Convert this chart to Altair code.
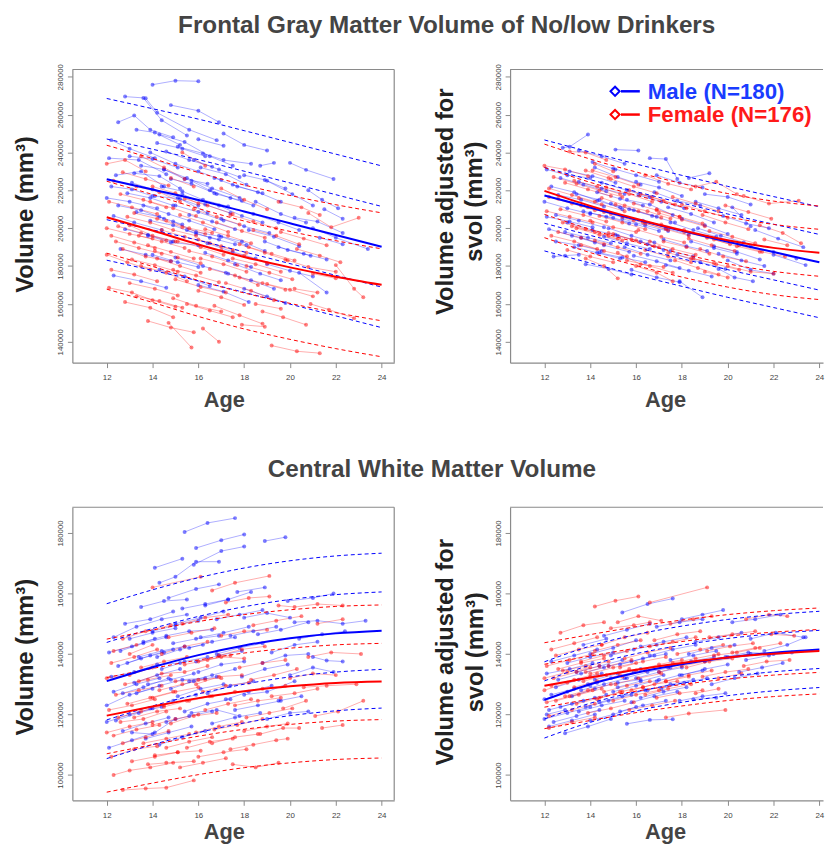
import altair as alt
import pandas as pd

AGES = [12, 14, 16, 18, 20, 22, 24]
X_TICKS = [12, 14, 16, 18, 20, 22, 24]
GM_TICKS = [140000, 160000, 180000, 200000, 220000, 240000, 260000, 280000]
WM_TICKS = [100000, 120000, 140000, 160000, 180000]

# ---------------- fitted curves (thousand mm3) at AGES ----------------
TL_M_MEAN = [225.8, 220.4, 214.9, 208.8, 202.6, 196.4, 190.2]
TL_M_BANDS = [[268.5, 263.1, 257.6, 251.5, 245.3, 239.1, 232.9],
              [247.1, 241.7, 236.2, 230.1, 223.9, 217.7, 211.5],
              [204.5, 199.1, 193.6, 187.5, 181.3, 175.1, 168.9],
              [183.1, 177.7, 172.2, 166.1, 159.9, 153.7, 147.5]]
TL_F_MEAN = [205.8, 198.8, 191.4, 184.8, 179.3, 174.4, 170.1]
TL_F_BANDS = [[243.8, 236.8, 229.4, 222.8, 217.3, 212.4, 208.1],
              [224.8, 217.8, 210.4, 203.8, 198.3, 193.4, 189.1],
              [186.8, 179.8, 172.4, 165.8, 160.3, 155.4, 151.1],
              [167.8, 160.8, 153.4, 146.8, 141.3, 136.4, 132.1]]

TR_M_MEAN = [217.3, 210.9, 204.6, 198.6, 192.8, 187.4, 182.0]
TR_M_BANDS = [[246.6, 240.2, 233.9, 227.9, 222.1, 216.7, 211.3],
              [232.0, 225.6, 219.3, 213.3, 207.5, 202.1, 196.7],
              [202.6, 196.2, 189.9, 183.9, 178.1, 172.7, 167.3],
              [188.0, 181.6, 175.3, 169.3, 163.5, 158.1, 152.7]]
TR_F_MEAN = [219.7, 211.8, 205.0, 198.9, 193.6, 189.6, 187.0]
TR_F_BANDS = [[244.4, 236.5, 229.7, 223.6, 218.3, 214.3, 211.7],
              [232.1, 224.2, 217.4, 211.3, 206.0, 202.0, 199.4],
              [207.3, 199.4, 192.6, 186.5, 181.2, 177.2, 174.6],
              [195.0, 187.1, 180.3, 174.2, 168.9, 164.9, 162.3]]

BL_M_MEAN = [131.0, 135.6, 139.6, 142.8, 145.2, 146.8, 147.7]
BL_M_BANDS = [[156.6, 161.2, 165.2, 168.4, 170.8, 172.4, 173.3],
              [143.8, 148.4, 152.4, 155.6, 158.0, 159.6, 160.5],
              [118.2, 122.8, 126.8, 130.0, 132.4, 134.0, 134.9],
              [105.4, 110.0, 114.0, 117.2, 119.6, 121.2, 122.1]]
BL_F_MEAN = [119.6, 122.6, 125.4, 127.7, 129.3, 130.4, 130.9]
BL_F_BANDS = [[144.9, 147.9, 150.7, 153.0, 154.6, 155.7, 156.2],
              [132.2, 135.2, 138.0, 140.3, 141.9, 143.0, 143.5],
              [107.0, 110.0, 112.8, 115.1, 116.7, 117.8, 118.3],
              [94.3, 97.3, 100.1, 102.4, 104.0, 105.1, 105.6]]

BR_M_MEAN = [124.8, 130.0, 133.8, 136.6, 138.8, 140.4, 141.5]
BR_M_BANDS = [[137.4, 142.6, 146.4, 149.2, 151.4, 153.0, 154.1],
              [131.1, 136.3, 140.1, 142.9, 145.1, 146.7, 147.8],
              [118.5, 123.7, 127.5, 130.3, 132.5, 134.1, 135.2],
              [112.2, 117.4, 121.2, 124.0, 126.2, 127.8, 128.9]]
BR_F_MEAN = [129.5, 132.2, 134.8, 137.0, 138.8, 140.1, 141.0]
BR_F_BANDS = [[143.7, 146.4, 149.0, 151.2, 153.0, 154.3, 155.2],
              [136.6, 139.3, 141.9, 144.1, 145.9, 147.2, 148.1],
              [122.4, 125.1, 127.7, 129.9, 131.7, 133.0, 133.9],
              [115.3, 118.0, 120.6, 122.8, 124.6, 125.9, 126.8]]

# ---------------- subject trajectories [age, vol(k), age, vol(k), ...] ----------------
TL_MALE = [
    [14.0, 275.8, 15.0, 277.9, 16.0, 277.6], [12.8, 269.5, 13.6, 268.8, 14.4, 257.0, 15.5, 249.0],
    [13.7, 268.6, 14.2, 261.0, 15.6, 252.0, 16.8, 246.5], [14.8, 265.0, 16.0, 262.0, 16.9, 256.0],
    [12.5, 256.0, 13.2, 259.5, 13.9, 252.0, 14.9, 248.0], [13.3, 252.0, 14.1, 250.5, 15.2, 244.0],
    [14.3, 249.5, 15.4, 245.5, 16.5, 238.0, 17.5, 233.0], [12.2, 246.5, 13.0, 242.0, 14.1, 237.0],
    [15.1, 243.0, 16.2, 239.5, 17.1, 236.0, 18.3, 234.0], [17.1, 250.0, 18.0, 244.0, 19.0, 241.0],
    [18.7, 233.0, 19.3, 234.5], [20.0, 234.5, 20.7, 230.8, 21.9, 226.0],
    [12.1, 237.0, 13.4, 236.0, 14.6, 228.5], [13.9, 240.0, 15.0, 234.0, 16.0, 230.0, 17.0, 225.5],
    [16.1, 232.0, 17.2, 228.5, 18.1, 223.0], [12.4, 228.0, 13.5, 230.0, 14.5, 222.0],
    [14.5, 231.0, 15.5, 226.5, 16.6, 221.0, 17.8, 216.0], [13.1, 224.0, 14.0, 220.5, 15.1, 216.0, 16.0, 212.0],
    [17.5, 223.0, 18.6, 219.0, 19.6, 214.0], [19.0, 225.0, 20.1, 218.0, 21.0, 212.0],
    [12.0, 216.0, 13.0, 214.0, 14.2, 210.5], [15.3, 218.0, 16.3, 212.5, 17.4, 208.0],
    [13.6, 212.0, 14.7, 207.5, 15.6, 204.0, 16.7, 199.5], [16.9, 212.0, 17.9, 206.5, 18.8, 203.0],
    [20.2, 205.5, 21.2, 203.5, 22.3, 197.5], [12.3, 206.5, 13.2, 203.0, 14.4, 199.0],
    [14.9, 203.5, 15.9, 198.0, 17.0, 195.5, 18.1, 191.0], [18.2, 199.0, 19.3, 195.5, 20.4, 190.5],
    [21.0, 200.0, 22.0, 195.0, 23.4, 189.0], [13.8, 196.0, 14.8, 192.5, 16.0, 191.0],
    [16.4, 192.0, 17.5, 187.5, 18.5, 184.0], [19.5, 190.0, 20.6, 186.5, 21.6, 183.5],
    [12.6, 189.0, 13.7, 186.0, 14.8, 182.5], [15.0, 184.5, 16.2, 180.0, 17.2, 176.5],
    [17.6, 181.0, 18.7, 176.0, 19.6, 172.5], [20.4, 176.5, 21.6, 166.0],
    [12.3, 175.0, 13.5, 172.0, 14.6, 168.5], [14.3, 178.0, 15.4, 174.5, 16.5, 169.5],
    [16.0, 170.0, 17.1, 166.5, 18.2, 161.0], [18.0, 168.0, 19.0, 164.0, 19.8, 160.5],
    [13.2, 229.0, 14.3, 227.5, 15.2, 221.0], [15.7, 225.0, 16.8, 218.0, 17.9, 214.5],
    [14.1, 217.0, 15.2, 215.5, 16.4, 208.0], [18.5, 214.0, 19.6, 207.5, 20.7, 203.0],
    [21.5, 210.0, 22.3, 205.0],
    [13.0, 238.0, 14.0, 236.5, 15.1, 232.0], [14.6, 240.5, 15.6, 236.0, 16.6, 232.5],
    [15.8, 236.0, 16.9, 231.0, 17.8, 227.0], [13.5, 233.0, 14.5, 231.0, 15.4, 226.0, 16.4, 223.5],
    [12.9, 218.5, 13.9, 216.0, 14.9, 212.0], [14.4, 222.0, 15.3, 219.5, 16.2, 215.0, 17.3, 211.5],
    [16.5, 220.0, 17.4, 216.0, 18.4, 212.0], [15.0, 212.0, 16.0, 208.5, 17.1, 204.0],
    [17.0, 205.0, 18.0, 201.0, 19.1, 197.5], [13.3, 208.5, 14.3, 206.0, 15.3, 202.0],
    [15.5, 199.0, 16.5, 195.0, 17.6, 191.5], [12.8, 199.5, 13.8, 196.5, 14.9, 193.0],
    [16.3, 187.0, 17.3, 183.0, 18.3, 179.5], [18.9, 193.0, 19.9, 188.5, 20.9, 185.5],
    [14.0, 186.0, 15.1, 182.0, 16.0, 179.5], [17.3, 176.0, 18.3, 172.5, 19.3, 168.0],
    [19.0, 181.0, 20.0, 177.5, 21.0, 174.5], [20.8, 220.0, 21.4, 215.0, 22.1, 210.5],
    [18.0, 228.0, 18.9, 225.5, 19.8, 221.0], [12.2, 222.0, 13.1, 220.5, 14.0, 217.0],
    [14.8, 226.0, 15.7, 223.5, 16.7, 218.5], [16.7, 226.5, 17.7, 222.0, 18.8, 218.5],
    [13.9, 204.0, 14.9, 201.5, 15.9, 197.0, 16.9, 194.0], [15.6, 207.0, 16.6, 203.5, 17.6, 199.5],
    [18.4, 207.5, 19.5, 203.0, 20.4, 199.0], [12.5, 212.0, 13.5, 209.5, 14.5, 205.0],
    [16.9, 196.0, 17.9, 193.0, 18.9, 188.0], [21.3, 195.0, 22.3, 191.5],
    [14.2, 245.0, 15.3, 242.0, 16.3, 238.0], [16.0, 247.0, 17.1, 243.5],
]
TL_FEMALE = [
    [12.0, 234.0, 12.8, 236.0, 13.7, 230.0], [13.5, 238.0, 14.5, 232.0, 15.4, 226.0],
    [15.3, 240.0, 16.3, 233.0], [12.3, 225.0, 13.3, 222.0, 14.3, 219.0, 15.2, 214.0],
    [14.0, 222.0, 15.0, 218.5, 16.0, 213.0], [17.0, 221.0, 18.0, 215.0, 19.0, 210.0],
    [19.5, 214.0, 20.5, 211.0, 21.3, 207.0], [20.8, 208.0, 21.8, 200.5, 23.0, 205.5],
    [12.1, 214.0, 13.1, 211.0, 14.2, 207.5], [13.2, 208.0, 14.2, 205.0, 15.3, 200.5, 16.3, 197.0],
    [15.2, 207.0, 16.2, 203.0, 17.3, 198.0], [16.8, 203.0, 17.9, 198.5, 18.9, 195.0],
    [18.4, 199.0, 19.4, 196.0, 20.4, 191.5], [12.5, 201.0, 13.5, 197.5, 14.6, 193.5],
    [14.4, 199.0, 15.4, 195.5, 16.5, 192.0, 17.5, 188.5], [16.0, 194.0, 17.0, 190.5, 18.1, 187.0],
    [12.2, 196.0, 13.2, 192.5, 14.1, 189.5], [13.8, 191.0, 14.8, 187.5, 15.8, 184.0],
    [15.6, 188.0, 16.6, 185.0, 17.7, 180.5], [17.5, 184.0, 18.5, 181.0, 19.6, 177.0],
    [19.8, 183.5, 20.8, 179.5, 22.0, 177.0], [22.0, 180.5, 22.8, 168.0, 23.2, 163.5],
    [12.7, 189.0, 13.7, 185.0, 14.8, 182.5], [14.2, 184.0, 15.2, 180.0, 16.1, 176.5],
    [16.5, 178.5, 17.6, 175.0, 18.6, 170.0], [12.0, 186.0, 12.9, 182.0, 13.9, 178.0],
    [13.5, 180.0, 14.6, 176.5, 15.5, 172.0], [15.0, 173.0, 16.1, 169.0, 17.2, 166.0],
    [17.2, 171.0, 18.3, 167.0, 19.3, 162.0], [12.1, 168.5, 13.1, 166.0, 14.0, 162.0, 15.0, 158.5],
    [13.0, 171.0, 14.1, 168.0, 15.1, 164.5], [14.9, 163.0, 15.9, 159.0, 17.0, 156.0],
    [16.7, 159.0, 17.8, 154.0, 18.8, 149.5], [18.8, 156.0, 19.7, 153.0, 20.7, 149.0],
    [20.9, 160.0, 21.7, 157.0, 22.8, 152.5], [12.8, 161.0, 13.9, 158.0, 14.9, 153.0],
    [13.8, 151.0, 14.8, 147.5, 15.8, 145.0], [14.7, 150.0, 15.7, 137.0],
    [16.2, 147.0, 16.9, 140.0], [19.2, 138.0, 20.3, 135.0, 21.3, 134.0],
    [15.4, 215.5, 16.4, 212.0, 17.5, 207.5], [17.8, 191.5, 18.9, 187.0, 19.9, 183.0],
    [20.2, 168.0, 21.2, 166.0], [13.0, 201.5, 14.0, 196.0, 15.0, 193.0],
    [18.5, 160.0, 19.6, 157.5],
    [12.6, 218.0, 13.6, 215.0, 14.6, 211.0], [13.9, 214.0, 14.9, 210.5, 15.9, 206.5],
    [15.8, 210.0, 16.8, 206.0, 17.8, 202.0], [12.9, 206.0, 13.9, 203.0, 14.9, 199.0, 15.9, 196.0],
    [14.6, 204.0, 15.6, 200.0, 16.6, 197.5], [16.3, 199.5, 17.3, 196.0, 18.3, 192.0],
    [13.4, 196.0, 14.4, 193.0, 15.4, 189.5], [15.1, 193.0, 16.1, 190.0, 17.1, 186.0],
    [17.0, 188.5, 18.0, 185.5, 19.0, 181.5], [12.4, 193.0, 13.4, 189.5, 14.4, 186.5],
    [14.1, 188.0, 15.1, 184.5, 16.1, 181.5], [16.1, 184.0, 17.1, 181.0, 18.1, 177.0],
    [18.1, 180.0, 19.1, 176.5, 20.1, 173.0], [13.1, 183.5, 14.1, 180.5, 15.1, 177.0],
    [14.9, 178.0, 15.9, 175.0, 16.9, 171.5], [17.8, 174.0, 18.8, 171.0, 19.8, 167.5],
    [12.2, 178.0, 13.2, 175.5, 14.2, 172.0], [16.0, 167.0, 17.0, 163.5, 18.0, 159.5],
    [19.0, 170.5, 20.0, 167.5, 21.0, 164.0], [21.0, 176.0, 22.0, 173.5],
    [17.4, 207.0, 18.4, 203.5, 19.4, 200.0], [19.6, 198.0, 20.6, 194.5, 21.6, 191.0],
    [12.7, 229.5, 13.7, 226.0, 14.7, 222.5], [14.8, 226.5, 15.8, 222.0],
    [18.2, 190.0, 19.2, 186.5, 20.2, 183.0], [20.3, 189.0, 21.3, 185.5, 22.2, 182.0],
    [15.5, 160.0, 16.5, 156.5, 17.5, 153.0], [13.3, 164.0, 14.3, 161.5, 15.3, 158.0],
    [17.9, 149.0, 18.9, 148.0], [12.0, 200.0, 13.0, 197.0, 14.0, 194.5],
]
TR_MALE = [
    [12.8, 242.5, 13.1, 243.0, 13.9, 249.5], [15.1, 241.5, 16.1, 241.0],
    [13.5, 241.0, 14.5, 238.0, 15.5, 234.0], [16.6, 237.0, 17.3, 236.5, 17.8, 226.0],
    [18.3, 226.5, 19.2, 229.0], [12.1, 231.0, 13.0, 228.0, 14.0, 226.5],
    [14.2, 232.0, 15.2, 227.0, 16.2, 223.0], [16.0, 224.5, 17.0, 221.5, 18.0, 217.0],
    [19.0, 218.0, 20.0, 216.5, 21.0, 212.5], [20.2, 211.0, 21.0, 201.0],
    [12.3, 222.0, 13.3, 219.0, 14.3, 214.5, 15.3, 211.0], [13.4, 218.0, 14.4, 215.0, 15.4, 210.0],
    [15.6, 215.0, 16.6, 212.5, 17.6, 207.0], [17.4, 211.0, 18.4, 207.5, 19.4, 203.0],
    [12.0, 214.0, 13.0, 210.5, 14.0, 207.5], [14.0, 208.0, 15.0, 205.5, 16.0, 202.0, 17.0, 198.5],
    [16.3, 204.0, 17.3, 200.0, 18.3, 196.5], [18.7, 200.0, 19.7, 196.0, 20.7, 192.5],
    [21.2, 199.0, 22.2, 194.5, 23.3, 190.0], [12.5, 207.0, 13.5, 204.0, 14.6, 200.5],
    [14.8, 200.0, 15.8, 196.0, 16.8, 192.5], [17.2, 194.0, 18.2, 190.5, 19.1, 188.0],
    [19.4, 190.5, 20.4, 187.5, 21.4, 183.5], [22.0, 186.0, 23.4, 180.5],
    [12.2, 199.5, 13.2, 196.0, 14.2, 192.5], [13.6, 195.0, 14.6, 191.0, 15.7, 187.5],
    [15.5, 190.0, 16.5, 186.0, 17.5, 183.0], [17.8, 186.0, 18.8, 182.0, 19.9, 178.5],
    [20.0, 183.0, 21.0, 178.0, 22.0, 176.0], [12.4, 185.0, 12.9, 185.5, 13.5, 186.0],
    [13.8, 181.0, 14.8, 178.5, 15.8, 175.5], [15.8, 178.0, 16.9, 174.0, 17.9, 171.5],
    [17.9, 172.0, 18.9, 163.5], [19.6, 178.5, 20.3, 174.0, 21.1, 172.0],
    [14.5, 224.0, 15.6, 220.0, 16.6, 216.5], [12.7, 226.5, 13.7, 223.0, 14.7, 219.5],
    [16.8, 219.0, 17.8, 214.5, 18.8, 212.0], [19.8, 206.5, 20.8, 202.5, 21.8, 200.0],
    [13.0, 203.0, 14.1, 199.0, 15.1, 196.5], [15.2, 196.0, 16.2, 193.0, 17.2, 188.5],
    [14.4, 187.0, 15.4, 184.5, 16.4, 182.0], [18.0, 205.0, 19.0, 201.5, 20.0, 197.0],
    [13.1, 230.0, 14.1, 227.5, 15.1, 224.0], [15.0, 231.5, 16.0, 228.0, 17.0, 224.5],
    [12.6, 217.5, 13.6, 215.0, 14.6, 211.5], [14.3, 219.0, 15.3, 215.5, 16.3, 212.0],
    [16.1, 217.5, 17.1, 214.0, 18.1, 210.5], [13.7, 209.0, 14.7, 206.0, 15.7, 202.5],
    [15.4, 205.0, 16.4, 201.5, 17.4, 198.5], [17.5, 203.0, 18.5, 199.0, 19.5, 195.5],
    [12.9, 198.0, 13.9, 195.0, 14.9, 192.0], [14.6, 195.5, 15.6, 192.0, 16.6, 189.0],
    [16.5, 191.5, 17.5, 188.0, 18.5, 185.0], [18.4, 193.0, 19.4, 189.5, 20.4, 186.5],
    [13.3, 190.0, 14.3, 187.0, 15.3, 184.0], [15.9, 185.5, 16.9, 182.5, 17.9, 179.0],
    [17.3, 180.5, 18.3, 177.5, 19.3, 174.5], [12.1, 206.0, 13.1, 203.5, 14.1, 200.5],
    [19.6, 186.5, 20.6, 183.0, 21.6, 180.0], [21.0, 190.5, 22.0, 187.5, 23.0, 184.0],
    [14.1, 235.0, 15.1, 231.0], [16.9, 228.0, 17.9, 224.0, 18.9, 221.5],
    [12.5, 193.0, 13.5, 191.0, 14.5, 188.0], [15.7, 210.0, 16.7, 206.5, 17.7, 203.0],
    [18.6, 214.0, 19.6, 210.5, 20.6, 207.0], [14.9, 213.0, 15.9, 209.5, 16.9, 206.0],
    [13.5, 224.5, 14.5, 221.0, 15.5, 218.0],
]
TR_FEMALE = [
    [13.1, 240.5, 13.8, 240.0, 14.7, 236.0], [12.0, 233.0, 12.9, 231.0, 13.9, 227.5],
    [14.1, 230.5, 15.1, 227.0, 16.1, 223.0], [16.4, 228.0, 17.4, 223.5, 18.4, 220.5],
    [18.6, 222.0, 19.5, 224.5, 20.4, 218.0], [20.7, 217.0, 21.8, 213.0, 23.1, 214.5],
    [12.4, 227.0, 13.4, 223.5, 14.4, 220.0, 15.4, 216.5], [13.3, 225.0, 14.3, 222.0, 15.3, 218.0],
    [15.7, 220.0, 16.7, 216.5, 17.7, 212.5], [17.6, 216.5, 18.6, 213.0, 19.6, 209.0],
    [19.9, 212.0, 20.9, 208.5, 21.9, 205.0], [12.2, 221.0, 13.2, 217.5, 14.2, 214.0],
    [14.5, 216.0, 15.5, 212.0, 16.5, 209.0, 17.5, 205.0], [16.9, 210.0, 17.9, 206.0, 18.9, 202.5],
    [18.9, 207.0, 19.9, 203.0, 20.9, 199.5], [21.4, 201.5, 22.4, 197.5, 23.2, 192.0],
    [12.6, 215.5, 13.6, 212.0, 14.6, 208.5], [13.9, 211.0, 14.9, 207.5, 15.9, 204.0],
    [15.4, 206.0, 16.4, 202.5, 17.4, 199.0], [17.1, 202.0, 18.1, 199.0, 19.1, 195.5],
    [19.2, 198.5, 20.2, 195.5, 21.2, 192.0], [12.1, 209.0, 13.1, 206.0, 14.1, 203.0],
    [14.0, 204.0, 15.0, 200.5, 16.0, 198.0], [16.1, 199.0, 17.1, 195.5, 18.1, 192.5],
    [18.3, 194.5, 19.3, 191.0, 20.3, 188.0], [20.5, 191.0, 21.5, 187.5, 22.5, 185.0],
    [12.8, 203.0, 13.8, 199.5, 14.8, 196.0], [14.8, 197.5, 15.8, 194.0, 16.8, 190.5],
    [16.6, 193.0, 17.6, 189.0, 18.6, 186.0], [18.8, 189.0, 19.8, 185.0, 20.8, 182.5],
    [12.3, 196.0, 13.3, 193.0, 14.3, 189.0], [13.6, 191.0, 14.6, 188.0, 15.6, 185.0],
    [15.2, 187.0, 16.2, 181.0, 17.2, 179.5], [17.7, 183.0, 18.7, 179.0, 19.6, 175.5],
    [20.0, 180.0, 21.0, 177.0, 22.0, 176.0], [13.8, 184.0, 14.6, 180.0, 15.2, 173.5],
    [16.0, 180.0, 16.9, 176.5, 17.6, 172.0], [19.0, 177.0, 20.0, 174.0],
    [15.9, 213.0, 16.9, 209.5, 17.9, 206.0], [13.4, 200.0, 14.4, 196.5, 15.4, 193.5],
    [17.4, 187.0, 18.4, 184.0, 19.4, 181.5], [14.2, 234.0, 15.0, 230.0],
    [12.9, 224.0, 13.9, 220.5, 14.9, 217.0], [14.7, 221.5, 15.7, 218.0, 16.7, 214.0],
    [16.2, 218.0, 17.2, 214.5, 18.2, 210.5], [13.5, 216.0, 14.5, 212.5, 15.5, 209.0],
    [15.1, 212.5, 16.1, 209.0, 17.1, 205.5], [17.0, 208.0, 18.0, 204.5, 19.0, 201.0],
    [12.7, 210.0, 13.7, 207.0, 14.7, 203.5], [14.4, 206.5, 15.4, 203.0, 16.4, 199.5],
    [16.3, 203.0, 17.3, 199.5, 18.3, 196.0], [18.1, 198.0, 19.1, 195.0, 20.1, 191.5],
    [13.2, 201.0, 14.2, 198.0, 15.2, 194.5], [15.0, 197.0, 16.0, 193.5, 17.0, 190.0],
    [17.2, 193.0, 18.2, 190.0, 19.2, 186.5], [12.6, 198.0, 13.6, 195.0, 14.6, 191.5],
    [14.2, 193.5, 15.2, 190.0, 16.2, 186.5], [16.4, 188.5, 17.4, 185.0, 18.4, 182.0],
    [19.4, 194.0, 20.4, 190.5, 21.4, 187.5], [13.0, 188.5, 14.0, 185.0, 15.0, 182.0],
    [15.6, 183.0, 16.6, 180.0, 17.6, 176.5], [18.5, 184.0, 19.5, 181.0, 20.5, 178.0],
    [21.6, 194.0, 22.6, 191.0], [12.2, 216.5, 13.2, 213.0, 14.2, 209.5],
    [14.9, 226.0, 15.9, 222.0, 16.9, 218.5], [18.0, 212.5, 19.0, 209.0, 20.0, 205.5],
    [13.8, 230.5, 14.8, 226.5],
]
BL_MALE = [
    [15.4, 180.3, 16.4, 183.3, 17.6, 184.9], [15.9, 175.0, 17.0, 177.6, 18.0, 179.5],
    [18.9, 177.3, 19.8, 178.6], [14.1, 168.5, 15.3, 171.5],
    [15.8, 169.5, 17.0, 174.0, 18.0, 175.5], [14.3, 163.5, 15.0, 165.5, 15.9, 170.5, 16.9, 170.5],
    [14.7, 158.5, 15.9, 161.5, 16.9, 163.0], [12.3, 145.5, 13.3, 149.0, 14.4, 151.5, 15.5, 153.0],
    [13.5, 155.5, 14.5, 157.5, 15.5, 158.0], [16.3, 156.0, 17.3, 158.0, 18.3, 160.5],
    [17.7, 160.5, 18.9, 162.0], [19.9, 157.5, 21.0, 158.5, 21.9, 160.0],
    [12.8, 150.0, 13.9, 151.5, 14.9, 154.0], [15.0, 150.0, 16.1, 152.0, 17.1, 154.0],
    [18.0, 152.0, 19.0, 153.5, 20.0, 152.0], [20.2, 150.5, 21.2, 151.0, 22.3, 150.0, 23.3, 151.0],
    [12.1, 140.5, 13.1, 142.5, 14.1, 145.0], [13.6, 144.0, 14.6, 146.0, 15.6, 147.5, 16.6, 148.0],
    [16.1, 145.5, 17.1, 147.0, 18.2, 149.0], [18.6, 146.5, 19.6, 148.0, 20.8, 150.5],
    [12.5, 136.0, 13.5, 138.5, 14.5, 140.5], [14.2, 139.0, 15.2, 141.5, 16.2, 143.0],
    [16.8, 140.0, 17.8, 142.0, 18.8, 143.5], [19.2, 140.5, 20.2, 143.0, 21.2, 144.0],
    [21.0, 139.0, 21.6, 137.8, 22.3, 137.5], [12.2, 132.5, 13.2, 134.0, 14.2, 136.5, 15.2, 137.0],
    [13.8, 130.0, 14.8, 131.5, 15.8, 133.5], [15.6, 131.0, 16.6, 133.0, 17.6, 135.0],
    [17.9, 132.5, 18.9, 135.0, 19.9, 136.5], [20.0, 133.0, 21.0, 135.5, 21.9, 134.0],
    [12.0, 123.0, 13.0, 126.5, 14.0, 128.5], [13.3, 127.0, 14.3, 129.5, 15.3, 131.5, 16.3, 132.0],
    [15.1, 126.0, 16.1, 128.5, 17.1, 130.0], [17.2, 125.0, 18.2, 127.5, 19.2, 129.5],
    [19.5, 124.5, 20.5, 126.0], [12.4, 118.0, 13.4, 120.5, 14.4, 122.5],
    [14.6, 117.5, 15.6, 119.5, 16.6, 121.0], [16.6, 117.0, 17.6, 119.0, 18.7, 120.5],
    [12.1, 109.0, 13.1, 111.5, 14.1, 114.0], [13.7, 112.0, 14.7, 114.0, 15.7, 116.0],
    [15.7, 120.5, 16.8, 121.5, 17.8, 119.5], [18.0, 126.5, 19.0, 127.5, 20.2, 131.0],
    [13.1, 114.0, 14.0, 113.5, 15.0, 118.5], [14.9, 143.5, 15.9, 145.0, 16.9, 146.0],
    [12.7, 127.0, 13.6, 129.0, 14.7, 132.0],
    [12.9, 137.0, 13.9, 139.5, 14.9, 141.5], [14.4, 135.0, 15.4, 137.5, 16.4, 139.0],
    [15.9, 137.5, 16.9, 139.5, 17.9, 141.0], [13.2, 130.5, 14.2, 133.0, 15.2, 135.0],
    [14.8, 128.5, 15.8, 131.0, 16.8, 132.5], [16.4, 127.0, 17.4, 129.5, 18.4, 131.0],
    [12.6, 141.0, 13.6, 143.5, 14.6, 145.5], [14.0, 147.5, 15.0, 149.5, 16.0, 151.0],
    [15.6, 142.0, 16.6, 144.0, 17.6, 145.5], [17.4, 146.0, 18.4, 147.5, 19.4, 149.0],
    [12.3, 127.5, 13.3, 130.0, 14.3, 132.0], [13.9, 122.0, 14.9, 124.5, 15.9, 126.5],
    [15.4, 121.0, 16.4, 123.5, 17.4, 125.0], [17.6, 121.5, 18.6, 123.0, 19.6, 124.5],
    [12.7, 114.5, 13.7, 117.0, 14.7, 119.0], [14.3, 110.0, 15.3, 112.5, 16.3, 114.5],
    [18.8, 137.0, 19.8, 139.5, 20.8, 140.0], [20.4, 145.0, 21.4, 146.5, 22.4, 147.5],
    [13.4, 139.0, 14.4, 141.0, 15.4, 142.5], [16.0, 134.0, 17.0, 136.5, 18.0, 137.5],
    [12.0, 117.5, 13.0, 120.0, 14.0, 122.0], [19.0, 118.5, 20.0, 120.5, 20.8, 121.0],
    [13.0, 145.0, 14.0, 147.0, 15.0, 148.5], [15.3, 155.0, 16.3, 156.5, 17.3, 158.0],
    [16.8, 151.5, 17.8, 153.0, 18.8, 154.5],
]
BL_FEMALE = [
    [16.6, 161.0, 17.6, 163.5, 19.1, 165.8], [14.0, 162.0, 16.1, 165.5],
    [17.2, 157.0, 18.2, 158.5, 19.1, 159.0], [19.5, 156.0, 20.2, 155.5, 21.2, 156.5, 22.3, 156.0],
    [12.7, 145.0, 13.7, 147.5, 14.8, 149.5], [15.3, 150.0, 16.3, 152.0, 17.3, 153.0],
    [18.4, 149.5, 19.4, 151.0, 20.5, 152.5], [21.2, 150.0, 22.3, 151.5],
    [12.2, 137.0, 13.2, 139.0, 14.2, 141.5], [14.4, 140.0, 15.4, 142.5, 16.4, 144.0],
    [16.9, 139.5, 17.9, 141.5, 18.9, 142.5], [20.8, 139.0, 21.8, 140.5, 23.1, 140.0],
    [12.0, 132.0, 13.0, 133.0, 14.0, 135.5], [13.4, 131.0, 14.4, 133.5, 15.4, 134.0, 16.4, 136.0],
    [15.9, 130.0, 16.9, 132.5, 17.9, 133.0], [18.3, 131.5, 19.3, 133.0, 20.3, 135.0],
    [20.6, 129.0, 21.6, 129.5, 22.9, 130.0], [12.4, 126.5, 13.4, 128.0, 14.4, 129.5],
    [14.0, 125.5, 15.0, 127.5, 16.0, 129.0], [15.6, 124.5, 16.6, 126.0, 17.6, 127.5],
    [17.6, 123.0, 18.6, 124.5, 19.6, 125.5], [19.7, 122.0, 20.7, 124.5],
    [21.1, 119.5, 22.1, 121.0, 23.2, 124.5], [12.1, 121.5, 13.1, 123.0, 14.1, 125.0],
    [13.2, 119.0, 14.2, 121.0, 15.2, 122.0], [14.8, 117.0, 15.8, 119.5, 16.8, 120.5],
    [16.7, 115.0, 17.7, 116.5, 18.8, 118.5], [18.7, 113.5, 19.7, 115.5, 20.4, 115.5],
    [21.4, 115.5, 22.3, 116.5], [12.3, 113.0, 13.3, 115.0, 14.3, 116.5],
    [13.6, 110.5, 14.6, 112.0, 15.6, 113.5], [15.5, 109.0, 16.5, 111.0, 17.5, 112.0],
    [17.4, 108.5, 18.4, 110.0, 19.4, 111.5, 19.9, 112.0], [12.2, 106.0, 13.2, 108.5, 14.2, 109.5],
    [14.1, 106.5, 15.1, 107.5, 16.1, 108.0], [16.0, 106.0, 17.1, 107.5, 18.1, 108.5],
    [12.3, 100.0, 13.0, 101.5, 13.9, 102.5, 14.9, 104.0], [12.7, 95.0, 13.7, 95.5, 14.6, 95.8, 15.8, 98.2],
    [17.5, 103.5, 18.5, 102.5, 19.5, 104.0], [13.8, 103.5, 14.6, 104.0, 15.8, 104.5],
    [16.0, 137.5, 17.0, 139.0, 18.0, 138.5], [13.0, 140.0, 14.0, 143.0],
    [18.8, 128.5, 19.8, 129.5], [12.6, 117.5, 13.6, 118.5, 14.6, 121.0],
    [15.0, 131.0, 16.0, 131.5, 17.0, 132.0],
    [12.8, 130.0, 13.8, 131.5, 14.8, 133.0], [14.3, 128.0, 15.3, 130.0, 16.3, 131.5],
    [16.2, 127.5, 17.2, 129.5, 18.2, 130.5], [12.9, 123.5, 13.9, 125.5, 14.9, 127.5],
    [14.5, 122.5, 15.5, 124.5, 16.5, 126.0], [16.3, 121.5, 17.3, 123.5, 18.3, 125.0],
    [12.5, 119.0, 13.5, 121.0, 14.5, 123.0], [14.0, 116.5, 15.0, 118.5, 16.0, 120.0],
    [15.9, 114.0, 16.9, 116.0, 17.9, 117.5], [12.7, 110.5, 13.7, 112.5, 14.7, 114.5],
    [14.6, 109.0, 15.6, 111.0, 16.6, 112.5], [16.6, 110.5, 17.6, 112.5, 18.6, 113.5],
    [18.1, 119.0, 19.1, 120.5, 20.1, 122.0], [19.2, 126.0, 20.2, 127.0, 21.2, 128.5],
    [13.5, 135.5, 14.5, 137.5, 15.5, 139.0], [15.4, 136.5, 16.4, 138.0, 17.4, 139.5],
    [17.8, 135.5, 18.8, 137.0, 19.8, 138.0], [12.3, 141.0, 13.3, 143.0],
    [14.7, 145.5, 15.7, 147.0, 16.7, 148.5], [17.0, 146.0, 18.0, 147.5, 19.0, 148.0],
    [13.1, 104.5, 14.1, 106.0, 15.1, 107.5], [15.2, 102.5, 16.2, 104.0, 17.2, 105.5],
    [20.0, 132.0, 21.0, 133.5, 22.0, 133.0], [12.0, 114.0, 13.0, 116.0, 14.0, 117.5],
    [18.0, 114.5, 19.0, 116.0, 19.9, 117.0],
]
BR_MALE = [
    [15.4, 153.7, 16.5, 156.5, 17.6, 158.3], [18.0, 151.5, 18.9, 153.0, 19.8, 154.5],
    [14.6, 146.0, 15.6, 148.0, 16.6, 150.0], [16.9, 149.0, 17.9, 150.5, 18.9, 151.5],
    [20.2, 150.5, 21.2, 151.5, 22.3, 153.0], [12.3, 137.5, 13.3, 139.5, 14.3, 141.5],
    [14.0, 140.0, 15.0, 142.0, 16.0, 144.5], [16.2, 142.5, 17.2, 144.0, 18.2, 145.5],
    [18.6, 144.0, 19.6, 145.5, 20.6, 147.0], [21.0, 145.0, 22.1, 147.0, 23.3, 145.5],
    [12.1, 133.5, 13.1, 135.0, 14.1, 137.0], [13.4, 134.0, 14.4, 136.0, 15.4, 138.0],
    [15.3, 136.5, 16.3, 138.5, 17.3, 140.0], [17.5, 138.0, 18.5, 139.5, 19.5, 141.0],
    [19.9, 139.0, 20.9, 140.5, 22.0, 140.0], [12.5, 129.0, 13.5, 131.5, 14.5, 133.5],
    [14.2, 131.5, 15.2, 133.5, 16.2, 135.0], [16.0, 132.0, 17.0, 134.0, 18.0, 135.5],
    [18.0, 133.0, 19.0, 135.0, 20.0, 136.5], [20.5, 134.0, 21.5, 135.5, 22.4, 137.0],
    [12.0, 125.0, 13.0, 127.5, 14.0, 129.5], [13.2, 126.0, 14.2, 128.5, 15.2, 130.5, 16.2, 131.5],
    [15.0, 127.5, 16.0, 129.5, 17.0, 131.5], [17.1, 128.5, 18.1, 130.5, 19.1, 132.0],
    [19.3, 130.0, 20.3, 132.0, 21.3, 133.5], [12.2, 121.5, 13.2, 123.5, 14.2, 125.5],
    [13.8, 122.5, 14.8, 124.5, 15.8, 126.5], [15.8, 124.0, 16.8, 126.0, 17.8, 127.5],
    [17.9, 124.5, 18.9, 126.0, 19.9, 127.0], [12.4, 117.5, 13.4, 119.5, 14.4, 121.5],
    [14.0, 118.0, 15.0, 120.0, 16.0, 122.5], [15.6, 116.9, 16.6, 118.2, 17.6, 118.4],
    [12.9, 113.8, 13.9, 116.0, 14.9, 118.5], [12.1, 120.0, 12.9, 121.5],
    [18.5, 125.0, 19.5, 125.5], [16.6, 139.5, 17.6, 141.5, 18.6, 143.0],
    [13.7, 143.0, 14.7, 145.0], [21.6, 141.0, 22.6, 143.0, 23.4, 145.5],
    [14.8, 136.0, 15.8, 137.5, 16.8, 139.5], [16.5, 128.0, 17.5, 130.0, 18.5, 131.5],
    [12.6, 131.5, 13.6, 133.5, 14.6, 135.5], [13.9, 130.0, 14.9, 132.0, 15.9, 134.0],
    [15.5, 132.0, 16.5, 134.0, 17.5, 135.5], [12.3, 126.5, 13.3, 128.5, 14.3, 130.5],
    [13.6, 128.0, 14.6, 130.0, 15.6, 132.0], [15.2, 129.0, 16.2, 131.0, 17.2, 133.0],
    [16.9, 131.0, 17.9, 133.0, 18.9, 134.5], [12.7, 122.5, 13.7, 124.5, 14.7, 126.5],
    [14.4, 124.0, 15.4, 126.0, 16.4, 128.0], [16.2, 125.5, 17.2, 127.5, 18.2, 129.0],
    [12.0, 118.5, 13.0, 120.5, 14.0, 122.5], [13.5, 121.0, 14.5, 123.0, 15.5, 124.5],
    [15.3, 121.0, 16.3, 123.0, 17.3, 124.5], [17.4, 135.5, 18.4, 137.5, 19.4, 139.0],
    [19.0, 137.5, 20.0, 139.0, 21.0, 140.0], [13.0, 137.0, 14.0, 139.0, 15.0, 140.5],
    [14.9, 139.5, 15.9, 141.5, 16.9, 143.0], [18.3, 140.0, 19.3, 142.0, 20.3, 143.0],
    [20.8, 138.0, 21.8, 139.5, 22.8, 140.5], [12.2, 116.0, 13.2, 118.0, 14.2, 120.0],
]
BR_FEMALE = [
    [14.2, 155.7, 15.1, 157.6, 16.1, 159.0], [16.6, 157.0, 19.1, 162.0],
    [12.7, 147.0, 13.7, 149.5, 14.6, 150.5], [15.2, 150.5, 16.1, 152.5, 17.1, 151.0],
    [17.5, 150.0, 18.5, 151.5, 19.3, 152.5], [20.8, 151.5, 21.8, 153.0, 22.6, 152.5],
    [12.3, 141.5, 13.3, 143.5, 14.3, 145.5], [14.5, 143.0, 15.5, 145.5, 16.5, 147.0],
    [16.8, 144.5, 17.8, 146.5, 18.8, 147.5], [19.2, 145.5, 20.2, 146.5, 21.2, 147.5],
    [21.9, 146.5, 22.9, 146.0], [12.1, 136.0, 13.1, 138.0, 14.1, 140.0],
    [13.6, 137.5, 14.6, 139.5, 15.6, 141.0], [15.5, 138.5, 16.5, 140.5, 17.5, 142.0],
    [17.8, 140.0, 18.8, 141.5, 19.8, 143.0], [20.2, 140.5, 21.2, 142.0, 22.3, 143.5],
    [12.4, 132.0, 13.4, 134.0, 14.4, 136.0], [14.0, 133.5, 15.0, 135.5, 16.0, 137.0],
    [16.0, 134.5, 17.0, 136.5, 18.0, 138.0], [18.2, 135.5, 19.2, 137.5, 20.2, 138.5],
    [20.7, 136.0, 21.7, 137.5, 22.7, 138.0], [12.0, 128.0, 13.0, 130.5, 14.0, 132.5],
    [13.3, 129.0, 14.3, 131.0, 15.3, 133.0], [15.1, 130.0, 16.1, 132.0, 17.1, 133.5],
    [17.3, 131.0, 18.3, 133.0, 19.3, 134.5], [19.6, 132.0, 20.6, 133.5],
    [12.5, 124.5, 13.5, 126.5, 14.5, 128.5], [14.3, 125.0, 15.3, 127.5, 16.3, 129.0],
    [16.4, 126.5, 17.4, 128.5, 18.4, 130.0], [18.6, 127.0, 19.6, 128.5],
    [12.2, 119.5, 13.2, 121.5, 14.2, 123.5], [13.9, 120.5, 14.9, 122.0, 15.9, 124.0],
    [15.7, 121.5, 16.7, 123.0, 17.7, 124.5], [17.3, 119.0, 18.3, 120.3, 19.9, 121.5],
    [12.2, 115.5, 13.2, 117.5, 14.2, 119.0], [14.9, 148.5, 15.9, 149.5, 16.6, 150.5],
    [16.9, 125.5, 17.9, 127.0, 18.9, 128.0], [12.8, 134.5, 13.8, 136.0, 14.8, 137.5],
    [15.8, 128.0, 16.8, 130.0, 17.8, 131.0], [19.4, 139.5, 20.4, 140.5, 21.4, 142.0],
    [12.6, 135.0, 13.6, 137.0, 14.6, 138.5], [13.8, 134.0, 14.8, 136.0, 15.8, 138.0],
    [15.3, 135.5, 16.3, 137.5, 17.3, 139.0], [12.3, 129.5, 13.3, 131.5, 14.3, 133.5],
    [13.7, 131.0, 14.7, 133.0, 15.7, 135.0], [15.4, 132.5, 16.4, 134.5, 17.4, 136.0],
    [17.0, 134.0, 18.0, 136.0, 19.0, 137.5], [12.9, 126.0, 13.9, 128.0, 14.9, 130.0],
    [14.6, 127.5, 15.6, 129.5, 16.6, 131.0], [16.3, 129.0, 17.3, 131.0, 18.3, 132.5],
    [12.1, 124.0, 13.1, 126.0, 14.1, 128.0], [13.4, 123.5, 14.4, 125.5, 15.4, 127.5],
    [15.0, 124.5, 16.0, 126.5, 17.0, 128.0], [17.6, 137.0, 18.6, 138.5, 19.6, 140.0],
    [19.1, 141.0, 20.1, 142.5, 21.1, 143.5], [12.5, 139.5, 13.5, 141.5, 14.5, 143.0],
    [14.2, 141.0, 15.2, 143.0, 16.2, 144.5], [16.6, 142.5, 17.6, 144.0, 18.6, 145.5],
    [18.9, 132.5, 19.9, 134.0, 20.9, 135.0], [12.0, 132.0, 13.0, 134.0, 14.0, 135.5],
]

BLUE = "#0000ff"
RED = "#ff0000"
FRAME = "#8a8a8a"
FONT = "Liberation Sans"
ONE = pd.DataFrame({"k": [0]})


def subjects_df(male, female):
    rows = []
    for sex, subs in (("M", male), ("F", female)):
        for i, s in enumerate(subs):
            for k in range(0, len(s), 2):
                rows.append({"sex": sex, "sid": f"{sex}{i}", "age": s[k], "vol": s[k + 1] * 1000})
    return pd.DataFrame(rows)


def curves_df(m_mean, m_bands, f_mean, f_bands):
    rows = []
    for sex, mean, bands in (("M", m_mean, m_bands), ("F", f_mean, f_bands)):
        for a, v in zip(AGES, mean):
            rows.append({"sex": sex, "cid": f"{sex}mean", "kind": "mean", "age": a, "vol": v * 1000})
        for j, b in enumerate(bands):
            for a, v in zip(AGES, b):
                rows.append({"sex": sex, "cid": f"{sex}b{j}", "kind": "band", "age": a, "vol": v * 1000})
    return pd.DataFrame(rows)


def panel(subj, curves, width, height, xdom, ydom, yticks, ytitle, ytx, yty, xtx, xty,
          extras, right_rule=True, line_height=30):
    xenc = alt.X("age:Q", scale=alt.Scale(domain=xdom, nice=False, zero=False),
                 axis=alt.Axis(values=X_TICKS, title="Age", titleX=xtx, titleY=xty,
                               titleAlign="center", titleBaseline="alphabetic",
                               titleFontSize=22, titleFont=FONT, titleFontWeight="bold",
                               titleColor="#444444", labelPadding=6))
    yenc = alt.Y("vol:Q", scale=alt.Scale(domain=ydom, nice=False, zero=False),
                 axis=alt.Axis(values=yticks, format="d", title=ytitle, titleX=ytx, titleY=yty,
                               titleAngle=270, titleAlign="center", titleBaseline="alphabetic",
                               titleFontSize=24, titleFont=FONT, titleFontWeight="bold",
                               titleColor="#222222", titleLineHeight=line_height,
                               labelAngle=270, labelAlign="center", labelBaseline="bottom",
                               labelPadding=3))
    color = alt.Color("sex:N", scale=alt.Scale(domain=["M", "F"], range=[BLUE, RED]), legend=None)

    lines = alt.Chart(subj).mark_line(strokeWidth=0.9, opacity=0.36).encode(
        x=xenc, y=yenc, color=color, detail="sid:N")
    pts = alt.Chart(subj).mark_circle(size=16, opacity=0.5).encode(x=xenc, y=yenc, color=color)
    dash = alt.Chart(curves[curves["kind"] == "band"]).mark_line(
        strokeWidth=1, strokeDash=[4, 3], interpolate="monotone").encode(
        x=xenc, y=yenc, color=color, detail="cid:N")
    mean = alt.Chart(curves[curves["kind"] == "mean"]).mark_line(
        strokeWidth=2, interpolate="monotone").encode(x=xenc, y=yenc, color=color, detail="cid:N")

    top = alt.Chart(ONE).mark_rule(color=FRAME, strokeWidth=1.2).encode(
        x=alt.value(0), x2=alt.value(width), y=alt.value(0))
    layers = [lines, pts, dash, mean, top]
    if right_rule:
        layers.append(alt.Chart(ONE).mark_rule(color=FRAME, strokeWidth=1.2).encode(
            x=alt.value(width), y=alt.value(0), y2=alt.value(height)))
    layers += extras
    return alt.layer(*layers).properties(width=width, height=height)


def text_mark(txt, x, y, size, color, align="center"):
    return alt.Chart(ONE).mark_text(text=txt, font=FONT, fontSize=size, fontWeight="bold",
                                    color=color, align=align, baseline="alphabetic").encode(
        x=alt.value(x), y=alt.value(y))


LW, RW, H = 325, 316, 296
GM_DOM = [129000, 283800]
WM_DOM = [91600, 188500]
LDOM = [10.5, 24.55]
RDOM = [10.5, 24.16]

legend = [
    alt.Chart(ONE).mark_rule(color=BLUE, strokeWidth=2.5).encode(
        x=alt.value(112), x2=alt.value(131), y=alt.value(22)),
    alt.Chart(ONE).mark_rule(color=RED, strokeWidth=2.5).encode(
        x=alt.value(112), x2=alt.value(131), y=alt.value(45.5)),
    alt.Chart(ONE).mark_point(shape="diamond", filled=False, size=85, strokeWidth=2,
                              color=BLUE, opacity=1).encode(x=alt.value(106), y=alt.value(22)),
    alt.Chart(ONE).mark_point(shape="diamond", filled=False, size=85, strokeWidth=2,
                              color=RED, opacity=1).encode(x=alt.value(106), y=alt.value(45.5)),
    text_mark("Male (N=180)", 139, 29.5, 22.5, "#1a3cff", align="left"),
    text_mark("Female (N=176)", 139, 53.5, 22.5, "#ff1a1a", align="left"),
]

tl = panel(subjects_df(TL_MALE, TL_FEMALE), curves_df(TL_M_MEAN, TL_M_BANDS, TL_F_MEAN, TL_F_BANDS),
           LW, H, LDOM, GM_DOM, GM_TICKS, "Volume (mm³)", -40, 146, 153, 44,
           [text_mark("Frontal Gray Matter Volume of No/low Drinkers", 378, -37, 24.5, "#444444")])
tr = panel(subjects_df(TR_MALE, TR_FEMALE), curves_df(TR_M_MEAN, TR_M_BANDS, TR_F_MEAN, TR_F_BANDS),
           RW, H, RDOM, GM_DOM, GM_TICKS, ["Volume adjusted for", "svol (mm³)"], -58.5, 133, 156.5, 44,
           legend, right_rule=False)
bl = panel(subjects_df(BL_MALE, BL_FEMALE), curves_df(BL_M_MEAN, BL_M_BANDS, BL_F_MEAN, BL_F_BANDS),
           LW, H, LDOM, WM_DOM, WM_TICKS, "Volume (mm³)", -40, 151, 153, 39,
           [text_mark("Central White Matter Volume", 363, -31, 24.5, "#444444")])
br = panel(subjects_df(BR_MALE, BR_FEMALE), curves_df(BR_M_MEAN, BR_M_BANDS, BR_F_MEAN, BR_F_BANDS),
           RW, H, RDOM, WM_DOM, WM_TICKS, ["Volume adjusted for", "svol (mm³)"], -58, 146, 156.5, 39,
           [], right_rule=False)

chart = alt.concat(tl, tr, bl, br, columns=2, bounds="flush",
                   spacing=alt.RowColnumber(row=146, column=117)).properties(
    padding={"left": 5, "top": 0, "right": 0, "bottom": 0}
).configure_view(stroke="transparent").configure_axis(
    grid=False, domain=True, domainColor=FRAME, domainWidth=1.2, tickColor=FRAME, tickWidth=1,
    tickSize=5, labelFont=FONT, labelFontSize=8, labelColor="#444444", labelFlush=False,
    labelOverlap=False
)

chart.save("out.html", embed_options={"renderer": "svg", "actions": False})
